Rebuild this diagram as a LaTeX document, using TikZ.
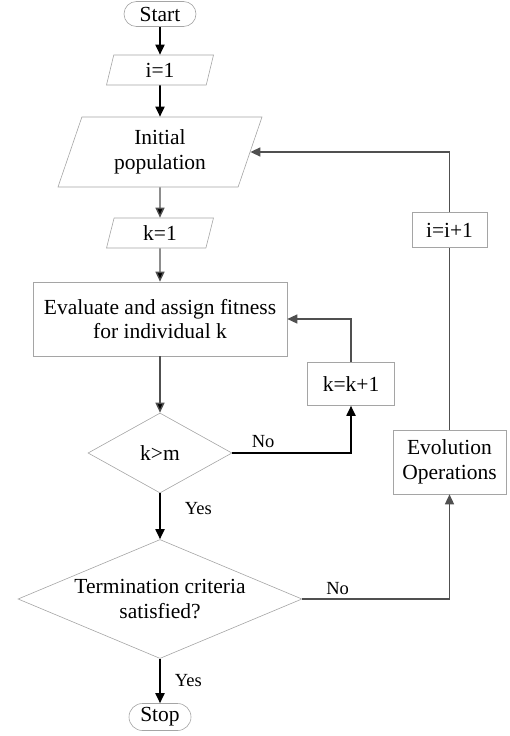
\documentclass[tikz,border=0pt]{standalone}
\usepackage{fontspec}
\setmainfont{Liberation Serif}
\usetikzlibrary{shapes.geometric, positioning, arrows.meta}

\definecolor{boxgray}{RGB}{165,165,165}
\definecolor{linegray}{RGB}{80,80,80}

\newcommand{\flowfont}{\fontsize{21.5}{24.5}\selectfont}
\newcommand{\labelfont}{\fontsize{18.5}{20}\selectfont}

\tikzset{
    terminal/.style = {draw=boxgray, line width=0.6pt, rectangle,
        rounded corners=12.5pt, minimum height=25pt, inner sep=0pt},
    io/.style = {draw=boxgray, line width=0.6pt, trapezium,
        trapezium left angle=63, trapezium right angle=117,
        trapezium stretches body, inner sep=0pt, align=center},
    process/.style = {draw=boxgray, line width=0.6pt, rectangle,
        inner sep=0pt, align=center},
    decision/.style = {draw=boxgray, line width=0.6pt, diamond,
        aspect=1.8, inner sep=0pt, align=center},
    flow/.style = {-{Triangle[length=10pt,width=9pt]}, line width=1.8pt, draw=black},
    flowgray/.style = {-{Triangle[length=10pt,width=9pt]}, line width=1.4pt, draw=linegray},
    answer/.style = {font=\labelfont, inner sep=1pt}
}

\begin{document}
\begin{tikzpicture} [font=\flowfont,
            node distance = 2cm,
            on grid]

        \useasboundingbox (0,0) rectangle (509pt,-736pt);

        % Start
        \node (start) [terminal, minimum width=72pt] at (160pt,-14pt) {Start};

        % i=1
        \node (ione) [io, minimum width=107pt, minimum height=30pt,
            below = 56pt of start] {i=1};

        % Initial population
        \node (init) [io, trapezium left angle=61.5, trapezium right angle=118.5,
            minimum width=204pt, minimum height=70pt,
            below = 82pt of ione] {Initial\\population};

        % k=1
        \node (kone) [io, minimum width=107pt, minimum height=30pt,
            below = 81pt of init] {k=1};

        % Evaluate
        \node (eval) [process, minimum width=254pt, minimum height=74pt,
            below = 86pt of kone] {Evaluate and assign fitness\\for individual k};

        % k>m
        \node (kgm) [decision, minimum width=144pt, minimum height=80pt,
            below = 134pt of eval] {k>m};

        % Termination
        \node (term) [decision, aspect=2.4, minimum width=284pt, minimum height=119pt,
            below = 146pt of kgm] {Termination criteria\\satisfied?};

        % Stop
        \node (stop) [terminal, minimum width=62pt, minimum height=27pt,
            rounded corners=13.5pt,
            below = 118pt of term] {Stop};

        % k=k+1
        \node (kinc) [process, minimum width=87pt, minimum height=43pt,
            above right = 69pt and 191pt of kgm] {k=k+1};

        % Evolution Operations
        \node (evol) [process, minimum width=113pt, minimum height=64pt,
            above right = 137pt and 289.5pt of term] {Evolution\\Operations};

        % i=i+1
        \node (iinc) [process, minimum width=75pt, minimum height=35pt,
            above = 232pt of evol] {i=i+1};

        % Arrows
        \path [flow]
            (start) edge (ione)
            (ione)  edge (init)
            (kgm)   edge node [answer, pos=0.33, right=23pt] {Yes} (term)
            (term)  edge node [answer, pos=0.48, right=13pt] {Yes} (stop);
        \path [flowgray]
            (init)  edge (kone)
            (kone)  edge (eval)
            (eval)  edge (kgm);

        \draw [flow] (kgm.east) -| node [answer, pos=0.13, above=3pt] {No} (kinc.south);
        \draw [flowgray] (kinc.north) |- (eval);
        \draw [flowgray] (term.east) -| node [answer, pos=0.12, above=3pt] {No} (evol.south);
        \draw [line width=1.4pt, draw=linegray] (evol) -- (iinc);
        \draw [flowgray] (iinc.north) |- (init);
        \end{tikzpicture}
\end{document}
